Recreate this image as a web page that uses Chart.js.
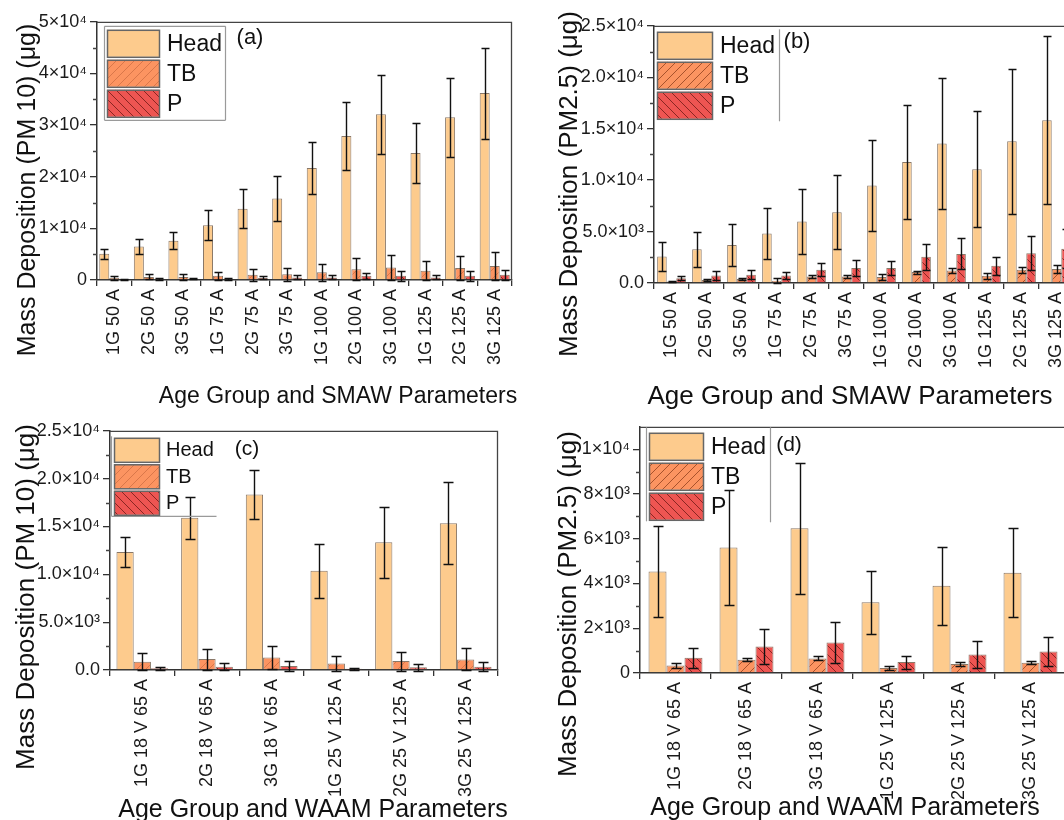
<!DOCTYPE html>
<html>
<head>
<meta charset="utf-8">
<script src="https://cdn.jsdelivr.net/npm/chart.js@4.4.1/dist/chart.umd.min.js"></script>
<style>
  html, body { margin: 0; padding: 0; background: #fff; }
  body { width: 1064px; height: 820px; overflow: hidden; position: relative;
         font-family: "Liberation Sans", Arial, sans-serif; color: #111; }
  canvas { position: absolute; }
  .ttl { position: absolute; white-space: nowrap; transform: translate(-50%, -50%); line-height: 1; }
  .ttl.v { transform: translate(-50%, -50%) rotate(-90deg); }
</style>
</head>
<body>
<canvas id="chartA"></canvas>
<canvas id="chartB"></canvas>
<canvas id="chartC"></canvas>
<canvas id="chartD"></canvas>

<div class="ttl v" style="left:26px;top:190px;font-size:25px">Mass Deposition (PM 10) (μg)</div>
<div class="ttl" style="left:338px;top:395px;font-size:23px">Age Group and SMAW Parameters</div>
<div class="ttl" style="left:250px;top:37px;font-size:22px">(a)</div>

<div class="ttl v" style="left:568px;top:184px;font-size:26px">Mass Deposition (PM2.5) (μg)</div>
<div class="ttl" style="left:850px;top:395px;font-size:26px">Age Group and SMAW Parameters</div>
<div class="ttl" style="left:797px;top:41px;font-size:22px">(b)</div>

<div class="ttl v" style="left:25px;top:597px;font-size:26px">Mass Deposition (PM 10) (μg)</div>
<div class="ttl" style="left:313px;top:808px;font-size:25px">Age Group and WAAM Parameters</div>
<div class="ttl" style="left:247px;top:447px;font-size:21px">(c)</div>

<div class="ttl v" style="left:567px;top:604px;font-size:26px">Mass Deposition (PM2.5) (μg)</div>
<div class="ttl" style="left:845px;top:806px;font-size:25px">Age Group and WAAM Parameters</div>
<div class="ttl" style="left:789px;top:443px;font-size:21px">(d)</div>

<script>
// categories
const smawLabels = ["1G 50 A", "2G 50 A", "3G 50 A", "1G 75 A", "2G 75 A", "3G 75 A",
                    "1G 100 A", "2G 100 A", "3G 100 A", "1G 125 A", "2G 125 A", "3G 125 A"];
const waamLabels = ["1G 18 V 65 A", "2G 18 V 65 A", "3G 18 V 65 A",
                    "1G 25 V 125 A", "2G 25 V 125 A", "3G 25 V 125 A"];
const regionNames = ["Head", "TB", "P"];

// (a) SMAW, PM 10 deposition (µg) with +/- error
const smawPm10Head    = [5100, 6500, 7600, 10600, 13800, 15800, 21700, 27900, 32100, 24600, 31500, 36200];
const smawPm10HeadErr = [950, 1400, 1600, 2900, 3750, 4300, 4950, 6650, 7650, 5800, 7700, 8800];
const smawPm10TB      = [400, 600, 600, 800, 1000, 1100, 1500, 2100, 2400, 1800, 2300, 2700];
const smawPm10TBErr   = [400, 500, 600, 800, 1100, 1200, 1600, 2100, 2400, 1800, 2300, 2700];
const smawPm10P       = [150, 200, 250, 200, 400, 500, 500, 800, 800, 500, 800, 1000];
const smawPm10PErr    = [100, 150, 150, 150, 300, 400, 400, 600, 900, 400, 900, 1000];

// (b) SMAW, PM2.5
const smawPm25Head    = [2570, 3280, 3700, 4820, 5980, 6880, 9480, 11760, 13560, 11050, 13790, 15810];
const smawPm25HeadErr = [1400, 1700, 2000, 2500, 3150, 3600, 4400, 5500, 6350, 5650, 7050, 8150];
const smawPm25TB      = [150, 300, 380, 220, 620, 620, 580, 1060, 1220, 700, 1280, 1350];
const smawPm25TBErr   = [50, 80, 100, 220, 150, 150, 250, 150, 200, 300, 300, 400];
const smawPm25P       = [450, 740, 800, 740, 1290, 1450, 1450, 2540, 2830, 1670, 2890, 3340];
const smawPm25PErr    = [200, 400, 450, 350, 650, 800, 700, 1250, 1500, 900, 1650, 1900];

// (c) WAAM, PM 10
const waamPm10Head    = [12340, 15900, 18330, 10370, 13350, 15350];
const waamPm10HeadErr = [1550, 2200, 2600, 2800, 3700, 4300];
const waamPm10TB      = [860, 1140, 1310, 690, 930, 1100];
const waamPm10TBErr   = [870, 1100, 1250, 800, 1000, 1150];
const waamPm10P       = [170, 350, 410, 140, 280, 350];
const waamPm10PErr    = [150, 400, 500, 100, 350, 450];

// (d) WAAM, PM2.5
const waamPm25Head    = [4530, 5610, 6470, 3160, 3900, 4480];
const waamPm25HeadErr = [2030, 2550, 2920, 1400, 1750, 2000];
const waamPm25TB      = [340, 590, 650, 220, 400, 460];
const waamPm25TBErr   = [120, 70, 90, 90, 80, 70];
const waamPm25P       = [680, 1180, 1360, 490, 830, 960];
const waamPm25PErr    = [440, 800, 910, 290, 590, 660];

const FONT = "'Liberation Sans', Arial, sans-serif";
const headFill = "#FDCB8D";
const tbFill = "#FC9461";
const pFill = "#EE5552";
const barEdge = "#8a7868";

// diagonal hatch tile, dir 1 = "/" and -1 = "\"
function hatch(base, line, dir, size) {
    const c = document.createElement("canvas");
    c.width = c.height = size;
    const g = c.getContext("2d");
    g.fillStyle = base;
    g.fillRect(0, 0, size, size);
    g.strokeStyle = line;
    g.lineWidth = 1;
    g.beginPath();
    for (let k = -1; k <= 1; k++) {
        if (dir > 0) {
            g.moveTo(k * size, size);
            g.lineTo(k * size + size, 0);
        } else {
            g.moveTo(k * size, 0);
            g.lineTo(k * size + size, size);
        }
    }
    g.stroke();
    return g.createPattern(c, "repeat");
}

const sup = { "3": "\u00B3", "4": "\u2074" };
function sci(v, digits) {
    if (v === 0) return digits ? (0).toFixed(digits) : "0";
    const e = Math.floor(Math.log10(v));
    const m = v / Math.pow(10, e);
    return m.toFixed(digits) + "\u00D710" + sup[String(e)];
}

// black error bars over each bar
const errorBars = {
    id: "errorBars",
    afterDatasetsDraw(chart, args, o) {
        const { ctx, scales: { y } } = chart;
        ctx.save();
        ctx.strokeStyle = "#111";
        ctx.lineWidth = 1.4;
        chart.data.datasets.forEach((ds, di) => {
            chart.getDatasetMeta(di).data.forEach((bar, i) => {
                const v = ds.data[i], e = ds.errors[i];
                const top = Math.round(y.getPixelForValue(v + e)) + 0.5;
                const bot = Math.round(y.getPixelForValue(v - e)) + 0.5;
                const x = Math.round(bar.x) + 0.5;
                ctx.beginPath();
                ctx.moveTo(x, top); ctx.lineTo(x, bot);
                ctx.moveTo(x - o.cap, top); ctx.lineTo(x + o.cap, top);
                ctx.moveTo(x - o.cap, bot); ctx.lineTo(x + o.cap, bot);
                ctx.stroke();
            });
        });
        ctx.restore();
    }
};

// top/right frame and short minor ticks on the y axis
const frame = {
    id: "frame",
    afterDraw(chart, args, o) {
        const { ctx, chartArea: a, scales: { y } } = chart;
        ctx.save();
        ctx.strokeStyle = "#444";
        ctx.lineWidth = 1.3;
        ctx.beginPath();
        ctx.moveTo(a.left, a.top + 0.5);
        ctx.lineTo(a.right - 0.5, a.top + 0.5);
        ctx.lineTo(a.right - 0.5, a.bottom);
        ctx.stroke();
        ctx.beginPath();
        for (let v = o.minor; v < y.max; v += o.minor * 2) {
            const py = Math.round(y.getPixelForValue(v)) + 0.5;
            ctx.moveTo(a.left - 4, py);
            ctx.lineTo(a.left, py);
        }
        ctx.stroke();
        ctx.restore();
    }
};

// stacked swatch legend drawn inside the plot area
const boxLegend = {
    id: "boxLegend",
    afterDraw(chart, args, o) {
        const { ctx, chartArea: a } = chart;
        ctx.save();
        ctx.strokeStyle = "#9a9a9a";
        ctx.lineWidth = 1.2;
        o.lines.forEach(([x1, y1, x2, y2]) => {
            ctx.beginPath();
            ctx.moveTo(a.left + x1 + 0.5, a.top + y1 + 0.5);
            ctx.lineTo(a.left + x2 + 0.5, a.top + y2 + 0.5);
            ctx.stroke();
        });
        ctx.font = o.font + "px " + FONT;
        ctx.textBaseline = "middle";
        chart.data.datasets.forEach((ds, i) => {
            const x = a.left + o.x, yy = a.top + o.y + i * o.step;
            ctx.fillStyle = ds.backgroundColor;
            ctx.fillRect(x, yy, o.w, o.h);
            ctx.strokeStyle = "#666";
            ctx.lineWidth = 1.5;
            ctx.strokeRect(x + 0.5, yy + 0.5, o.w, o.h);
            ctx.fillStyle = "#111";
            ctx.fillText(ds.label, a.left + o.tx, yy + o.h / 2 + 1);
        });
        ctx.restore();
    }
};

function drawPanel(id, box, labels, series, cfg) {
    const cv = document.getElementById(id);
    cv.width = box.w;
    cv.height = box.h;
    cv.style.left = box.x + "px";
    cv.style.top = box.y + "px";

    const fills = [
        headFill,
        hatch(tbFill, cfg.tbLine, 1, 9),
        hatch(pFill, "#8a2622", -1, 9)
    ];

    // labelled y ticks: 0, step, 2*step ... up to max
    const yTicks = [];
    for (let v = 0; v <= cfg.max; v += cfg.step) yTicks.push(v);

    return new Chart(cv, {
        type: "bar",
        data: {
            labels: labels,
            datasets: series.map((s, i) => ({
                label: regionNames[i],
                data: s[0],
                errors: s[1],
                backgroundColor: fills[i],
                borderColor: barEdge,
                borderWidth: 1,
                categoryPercentage: cfg.catPct,
                barPercentage: 1
            }))
        },
        options: {
            responsive: false,
            animation: false,
            layout: { padding: { top: 12, right: 12, left: 0, bottom: 0 } },
            scales: {
                x: {
                    afterFit: (s) => { s.height = box.xh; },
                    grid: { offset: true, drawOnChartArea: false, tickLength: 6, color: "#333", lineWidth: 1.3 },
                    border: { color: "#333", width: 1.5 },
                    ticks: {
                        autoSkip: false, minRotation: 90, maxRotation: 90, padding: 3,
                        color: "#1a1a1a", font: { family: FONT, size: cfg.xFont }
                    }
                },
                y: {
                    min: 0,
                    max: cfg.max,
                    afterFit: (s) => { s.width = 90; },
                    afterBuildTicks: (s) => { s.ticks = yTicks.map((v) => ({ value: v })); },
                    grid: { drawOnChartArea: false, tickLength: 7, color: "#333", lineWidth: 1.3 },
                    border: { color: "#333", width: 1.5 },
                    ticks: {
                        padding: 3,
                        color: "#1a1a1a", font: { family: FONT, size: cfg.yFont },
                        callback: (v) => sci(v, cfg.digits)
                    }
                }
            },
            plugins: {
                legend: { display: false },
                tooltip: { enabled: false },
                errorBars: { cap: cfg.cap },
                frame: { minor: cfg.step / 2 },
                boxLegend: cfg.legend
            }
        },
        plugins: [errorBars, frame, boxLegend]
    });
}

drawPanel("chartA", { x: 7, y: 8, w: 517, h: 382, xh: 110 }, smawLabels,
    [[smawPm10Head, smawPm10HeadErr], [smawPm10TB, smawPm10TBErr], [smawPm10P, smawPm10PErr]],
    { max: 50000, step: 10000, digits: 0, catPct: 0.87, cap: 4, xFont: 18, yFont: 18,
      tbLine: "#d9774a",
      legend: { x: 10, y: 8, w: 52, h: 27, step: 30, tx: 70, font: 23,
                lines: [[7, 4, 128, 4], [128, 4, 128, 98], [128, 98, 7, 98], [7, 98, 7, 4]] } });

drawPanel("chartB", { x: 564, y: 12, w: 522, h: 381, xh: 110 }, smawLabels,
    [[smawPm25Head, smawPm25HeadErr], [smawPm25TB, smawPm25TBErr], [smawPm25P, smawPm25PErr]],
    { max: 25000, step: 5000, digits: 1, catPct: 0.82, cap: 4, xFont: 18, yFont: 18,
      tbLine: "#a8522c",
      legend: { x: 3, y: 6, w: 55, h: 27, step: 30, tx: 66, font: 23,
                lines: [[125, 3, 125, 95]] } });

drawPanel("chartC", { x: 20, y: 417, w: 490, h: 393, xh: 140 }, waamLabels,
    [[waamPm10Head, waamPm10HeadErr], [waamPm10TB, waamPm10TBErr], [waamPm10P, waamPm10PErr]],
    { max: 25000, step: 5000, digits: 1, catPct: 0.8, cap: 5, xFont: 18, yFont: 18,
      tbLine: "#d9774a",
      legend: { x: 4, y: 7, w: 45, h: 24, step: 26.5, tx: 56, font: 20,
                lines: [[1, 5, 1, 85], [1, 85, 106, 85]] } });

drawPanel("chartD", { x: 550, y: 413, w: 528, h: 400, xh: 140 }, waamLabels,
    [[waamPm25Head, waamPm25HeadErr], [waamPm25TB, waamPm25TBErr], [waamPm25P, waamPm25PErr]],
    { max: 11000, step: 2000, digits: 0, catPct: 0.76, cap: 5, xFont: 18, yFont: 18,
      tbLine: "#a8522c",
      legend: { x: 9, y: 6, w: 54, h: 27, step: 30, tx: 71, font: 23,
                lines: [[6, 0, 6, 94], [130, 0, 130, 95]] } });
</script>
</body>
</html>
